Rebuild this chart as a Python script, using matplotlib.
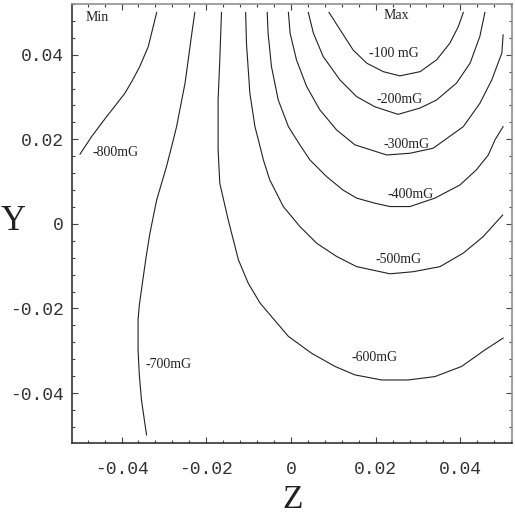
import matplotlib
matplotlib.use('Agg')
import matplotlib.pyplot as plt
from matplotlib.ticker import MultipleLocator

# contour lines, (z, y) pairs, field in mG
z_100 = [0.0090, 0.0116, 0.0147, 0.0179, 0.0218, 0.0257, 0.0305, 0.0344, 0.0375, 0.0395, 0.0407]
y_100 = [0.0500, 0.0459, 0.0411, 0.0380, 0.0360, 0.0350, 0.0360, 0.0388, 0.0427, 0.0466, 0.0500]

z_200 = [0.0041, 0.0053, 0.0076, 0.0116, 0.0155, 0.0198, 0.0253, 0.0305, 0.0344, 0.0391, 0.0423, 0.0446, 0.0458]
y_200 = [0.0500, 0.0451, 0.0396, 0.0340, 0.0301, 0.0277, 0.0259, 0.0274, 0.0293, 0.0333, 0.0380, 0.0443, 0.0500]

z_300 = [-0.0006, -0.0002, 0.0013, 0.0037, 0.0068, 0.0108, 0.0151, 0.0226, 0.0281, 0.0336, 0.0407, 0.0446, 0.0474, 0.0498, 0.0501]
y_300 = [0.0500, 0.0451, 0.0388, 0.0325, 0.0270, 0.0222, 0.0187, 0.0163, 0.0167, 0.0179, 0.0230, 0.0285, 0.0340, 0.0404, 0.0447]

z_400 = [-0.0056, -0.0054, -0.0046, -0.0030, -0.0006, 0.0021, 0.0045, 0.0084, 0.0123, 0.0155, 0.0198,
         0.0234, 0.0281, 0.0340, 0.0399, 0.0438, 0.0466, 0.0482, 0.0501]
y_400 = [0.0500, 0.0451, 0.0372, 0.0293, 0.0230, 0.0187, 0.0151, 0.0112, 0.0080, 0.0061, 0.0049,
         0.0041, 0.0041, 0.0061, 0.0092, 0.0128, 0.0163, 0.0199, 0.0230]

z_500 = [-0.0107, -0.0105, -0.0097, -0.0085, -0.0077, -0.0065, -0.0050, -0.0018, 0.0021, 0.0061,
         0.0108, 0.0155, 0.0234, 0.0289, 0.0352, 0.0407, 0.0454, 0.0500]
y_500 = [0.0500, 0.0427, 0.0309, 0.0230, 0.0199, 0.0151, 0.0104, 0.0041, -0.0006, -0.0046,
         -0.0077, -0.0101, -0.0118, -0.0113, -0.0101, -0.0069, -0.0030, 0.0021]

z_600 = [-0.0164, -0.0168, -0.0172, -0.0172, -0.0168, -0.0148, -0.0124, -0.0101, -0.0073, -0.0046, -0.0006,
         0.0049, 0.0104, 0.0151, 0.0214, 0.0277, 0.0340, 0.0403, 0.0458, 0.0501]
y_600 = [0.0500, 0.0388, 0.0293, 0.0175, 0.0096, 0.0009, -0.0085, -0.0140, -0.0187, -0.0219, -0.0266,
         -0.0306, -0.0337, -0.0357, -0.0369, -0.0369, -0.0361, -0.0337, -0.0298, -0.0270]

z_700 = [-0.0227, -0.0234, -0.0242, -0.0250, -0.0260, -0.0270, -0.0282, -0.0294, -0.0317, -0.0333, -0.0343,
         -0.0353, -0.0358, -0.0361, -0.0361, -0.0361, -0.0358, -0.0353, -0.0341]
y_700 = [0.0500, 0.0451, 0.0392, 0.0333, 0.0282, 0.0230, 0.0182, 0.0135, 0.0057, -0.0022, -0.0085,
         -0.0156, -0.0192, -0.0227, -0.0262, -0.0298, -0.0357, -0.0416, -0.0499]

z_800 = [-0.0498, -0.0471, -0.0435, -0.0413, -0.0392, -0.0374, -0.0357, -0.0337, -0.0317]
y_800 = [0.0165, 0.0206, 0.0254, 0.0282, 0.0309, 0.0340, 0.0372, 0.0419, 0.0500]

contours = [(z_100, y_100), (z_200, y_200), (z_300, y_300), (z_400, y_400),
            (z_500, y_500), (z_600, y_600), (z_700, y_700), (z_800, y_800)]

ticks = [-0.04, -0.02, 0, 0.02, 0.04]
tick_labels = ['-0.04', '-0.02', '0', '0.02', '0.04']

fig = plt.figure(figsize=(5.15, 5.16), dpi=100)
ax = fig.add_axes([0.1398, 0.1415, 0.8544, 0.8508])

for zs, ys in contours:
    ax.plot(zs, ys, color='#222222', lw=0.8)

serif = 'Liberation Serif'
lab = dict(fontsize=10, family=serif, ha='center', va='center', color='#222222')
ax.text(-0.0486, 0.0487, 'Min', fontsize=10, family=serif, ha='left', va='center', color='#222222')
ax.text(0.0250, 0.0492, 'Max', **lab)
ax.text(0.0243, 0.0402, '-100 mG', **lab)
ax.text(0.0257, 0.0293, '-200mG', **lab)
ax.text(0.0273, 0.0187, '-300mG', **lab)
ax.text(0.0283, 0.0069, '-400mG', **lab)
ax.text(0.0255, -0.0085, '-500mG', **lab)
ax.text(0.0198, -0.0317, '-600mG', **lab)
ax.text(-0.0290, -0.0332, '-700mG', **lab)
ax.text(-0.0413, 0.0168, '-800mG', **lab)

ax.set_xlim(-0.0517, 0.0522)
ax.set_ylim(-0.0518, 0.0520)
ax.set_xticks(ticks)
ax.set_xticklabels(tick_labels)
ax.set_yticks(ticks)
ax.set_yticklabels(tick_labels)
ax.xaxis.set_minor_locator(MultipleLocator(0.004))
ax.yaxis.set_minor_locator(MultipleLocator(0.004))
ax.tick_params(which='both', direction='in', top=True, right=True, color='#444444', width=0.8)
ax.tick_params(which='major', length=4)
ax.tick_params(which='minor', length=2)
ax.tick_params(axis='x', pad=13)
ax.tick_params(axis='y', pad=6)
for t in ax.get_xticklabels() + ax.get_yticklabels():
    t.set_family('Liberation Mono')
    t.set_fontsize(13)
    t.set_color('#333333')

for side in ['left', 'bottom']:
    ax.spines[side].set_color('#333333')
    ax.spines[side].set_linewidth(1.2)
for side in ['top', 'right']:
    ax.spines[side].set_color('#909090')
    ax.spines[side].set_linewidth(1.2)

fig.text(13.5 / 515, 1 - 221.5 / 516, 'Y', family=serif, fontsize=25, ha='center', va='center', color='#222222')
fig.text(292.5 / 515, 1 - 508 / 516, 'Z', family=serif, fontsize=24, ha='center', va='baseline', color='#222222')

fig.savefig('out.png', dpi=100)
